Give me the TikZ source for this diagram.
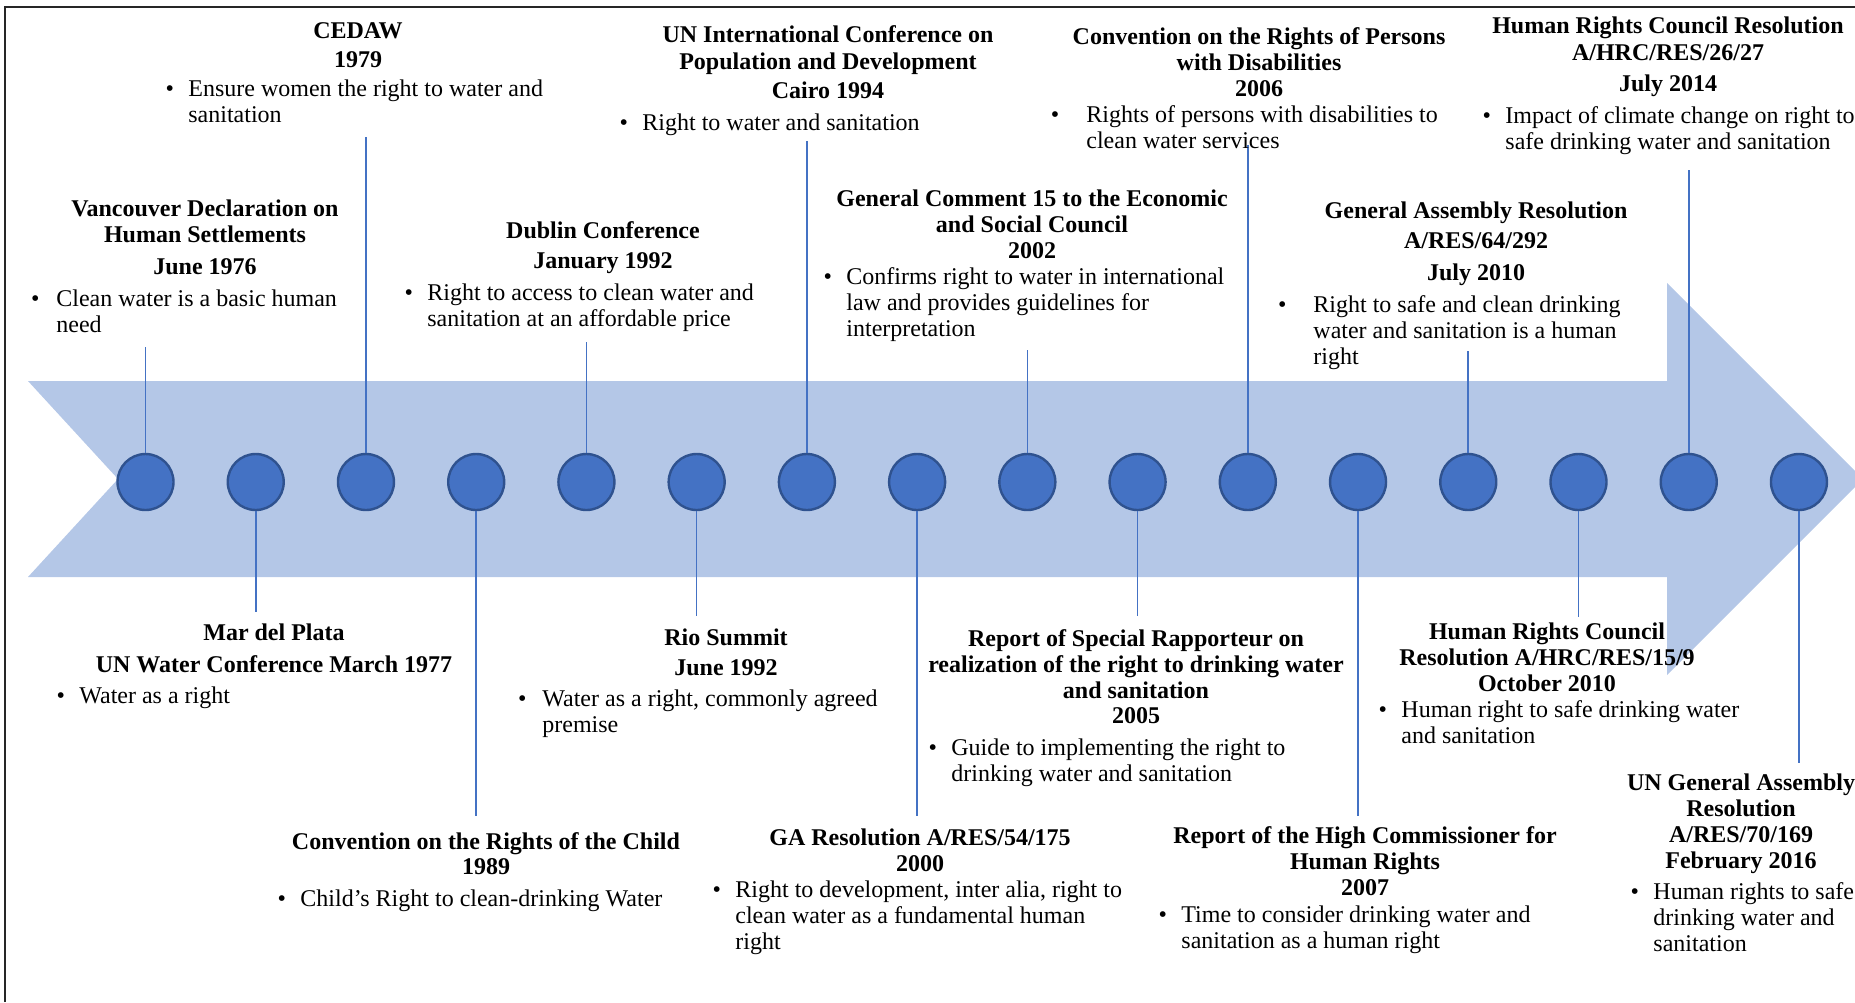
\documentclass[tikz,border=0pt]{standalone}
\usepackage{fontspec}
\setmainfont{Liberation Serif}
\definecolor{band}{HTML}{B4C7E7}
\definecolor{dotfill}{HTML}{4472C4}
\definecolor{dotedge}{HTML}{2F528F}
\definecolor{stemblue}{HTML}{4472C4}
% bullet hung in front of the first line of a note
\newcommand\bul[1][7.2pt]{\llap{\textbullet\hspace{#1}}}
% nodes are placed by the baseline of their last line
\tikzset{
  evt/.style={anchor=base, align=center, inner sep=0pt,
    font=\fontsize{12}{13}\selectfont\bfseries},
  note/.style={anchor=base west, align=left, inner sep=0pt,
    font=\fontsize{12}{13}\selectfont},
  dot/.style={circle, minimum size=28pt, inner sep=0pt,
    fill=dotfill, draw=dotedge, line width=1.2pt},
  stemline/.style={draw=stemblue, line width=0.8pt},
  frameline/.style={draw=black!85, line width=1pt}
}
\begin{document}
\begin{tikzpicture}[x=0.5pt,y=-0.5pt]
\useasboundingbox (0,0) rectangle (1855,1002);
\clip (0,0) rectangle (1855,1002);

% frame on the left and top edges
\draw[frameline] (5,1002) -- (5,7) -- (1855,7);

% the timeline band
\fill[band] (28,381) -- (1667,381) -- (1667,283) -- (1863,479)
  -- (1667,675) -- (1667,577) -- (28,577) -- (118,479) -- cycle;

% milestones along the band
\foreach \i in {1,...,16}{
  \node[dot] (c\i) at ({145.5+(\i-1)*110.23},482) {};
}

% free ends of the stems
\coordinate (e1)  at (c1  |- 0,347);
\coordinate (e2)  at (c2  |- 0,612);
\coordinate (e3)  at (c3  |- 0,137);
\coordinate (e4)  at (c4  |- 0,816);
\coordinate (e5)  at (c5  |- 0,342);
\coordinate (e6)  at (c6  |- 0,616);
\coordinate (e7)  at (c7  |- 0,141);
\coordinate (e8)  at (c8  |- 0,816);
\coordinate (e9)  at (c9  |- 0,350);
\coordinate (e10) at (c10 |- 0,616);
\coordinate (e11) at (c11 |- 0,145);
\coordinate (e12) at (c12 |- 0,816);
\coordinate (e13) at (c13 |- 0,351);
\coordinate (e14) at (c14 |- 0,617);
\coordinate (e15) at (c15 |- 0,170);
\coordinate (e16) at (c16 |- 0,763);

\foreach \i in {1,3,5,7,9,11,13,15}{
  \draw[stemline] (e\i) -- (c\i.north);
}
\foreach \i in {2,4,6,8,10,12,14,16}{
  \draw[stemline] (c\i.south) -- (e\i);
}

% ---- events above the band ----
\node[evt] (vanT) at (205,274) {Vancouver Declaration on\\Human Settlements\\[3pt]June 1976};
\node[note] (vanN) at (56,332) {\bul[8.4pt]Clean water is a basic human\\need};

\node[evt] (cedT) at (358,67) {CEDAW\\[1.5pt]1979};
\node[note] (cedN) at (188,122) {\bul Ensure women the right to water and\\sanitation};

\node[evt] (dubT) at (603,268) {Dublin Conference\\[2pt]January 1992};
\node[note] (dubN) at (427,326) {\bul Right to access to clean water and\\sanitation at an affordable price};

\node[evt] (caiT) at (828,98) {UN International Conference on\\[0.5pt]Population and Development\\[1.5pt]Cairo 1994};
\node[note] (caiN) at (642,130) {\bul Right to water and sanitation};

\node[evt] (gcT) at (1032,258) {General Comment 15 to the Economic\\and Social Council\\2002};
\node[note] (gcN) at (846,336) {\bul Confirms right to water in international\\law and provides guidelines for\\interpretation};

\node[evt] (crpdT) at (1259,96) {Convention on the Rights of Persons\\with Disabilities\\2006};
\node[note] (crpdN) at (1086,148) {\bul[13.6pt]Rights of persons with disabilities to\\clean water services};

\node[evt] (gaaT) at (1476,280) {General Assembly Resolution\\[2pt]A/RES/64/292\\[3pt]July 2010};
\node[note] (gaaN) at (1313,364) {\bul[13.4pt]Right to safe and clean drinking\\water and sanitation is a human\\right};

\node[evt] (hrcaT) at (1668,91) {Human Rights Council Resolution\\[0.5pt]A/HRC/RES/26/27\\[2.5pt]July 2014};
\node[note] (hrcaN) at (1505,149) {\bul Impact of climate change on right to\\safe drinking water and sanitation};

% ---- events below the band ----
\node[evt] (mdpT) at (274,672) {Mar del Plata\\[3pt]UN Water Conference March 1977};
\node[note] (mdpN) at (79,703) {\bul Water as a right};

\node[evt] (crcT) at (486,874) {Convention on the Rights of the Child\\[-0.5pt]1989};
\node[note] (crcN) at (300,906) {\bul Child's Right to clean-drinking Water};

\node[evt] (rioT) at (726,675) {Rio Summit\\[2pt]June 1992};
\node[note] (rioN) at (542,732) {\bul[7.9pt]Water as a right, commonly agreed\\premise};

\node[evt] (gabT) at (920,871) {GA Resolution A/RES/54/175\\2000};
\node[note] (gabN) at (735,949) {\bul Right to development, inter alia, right to\\clean water as a fundamental human\\right};

\node[evt] (srT) at (1136,723) {Report of Special Rapporteur on\\realization of the right to drinking water\\and sanitation\\[-0.5pt]2005};
\node[note] (srN) at (951,781) {\bul Guide to implementing the right to\\drinking water and sanitation};

\node[evt] (hcT) at (1365,895) {Report of the High Commissioner for\\Human Rights\\2007};
\node[note] (hcN) at (1181,948) {\bul Time to consider drinking water and\\sanitation as a human right};

\node[evt] (hrcbT) at (1547,691) {Human Rights Council\\Resolution A/HRC/RES/15/9\\October 2010};
\node[note] (hrcbN) at (1401,743) {\bul Human right to safe drinking water\\and sanitation};

\node[evt] (gacT) at (1741,868) {UN General Assembly\\Resolution\\A/RES/70/169\\February 2016};
\node[note] (gacN) at (1653,951) {\bul Human rights to safe\\drinking water and\\sanitation};
\end{tikzpicture}
\end{document}
